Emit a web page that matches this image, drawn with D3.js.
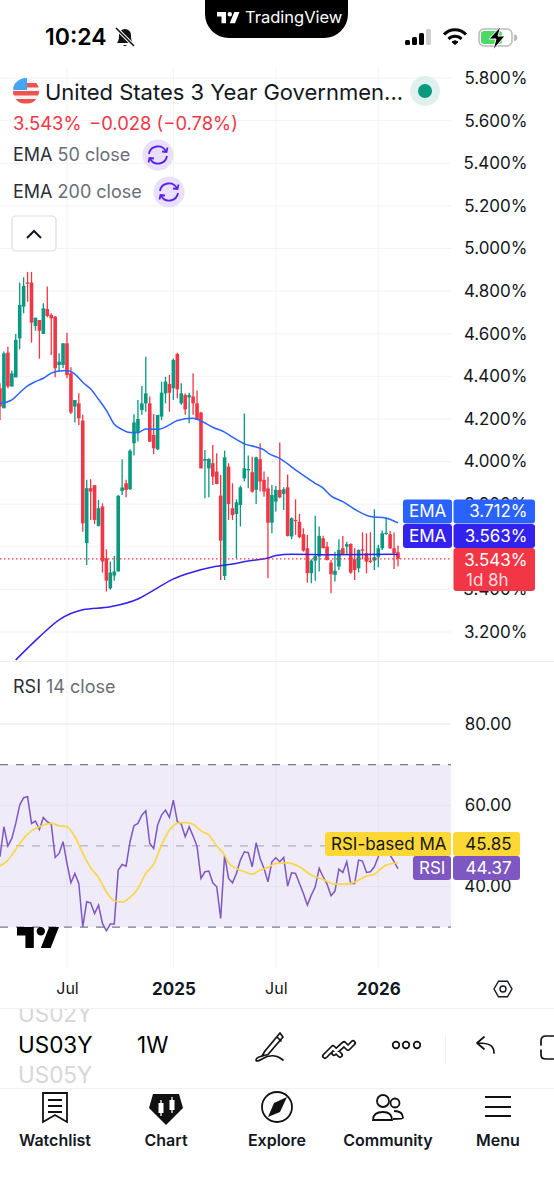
<!DOCTYPE html>
<html><head><meta charset="utf-8">
<script src="https://cdn.jsdelivr.net/npm/d3@7"></script>
<style>html,body{margin:0;padding:0;background:#fff}svg{display:block}text{font-family:Inter,"Noto Sans",sans-serif}</style>
</head><body><svg id="c" width="554" height="1200"></svg>
<script>
// Weekly candles, values (percent yield)
const opens=[4.344,4.250,4.511,4.352,4.395,4.578,4.727,4.840,4.840,4.636,4.664,4.599,4.716,4.688,4.680,4.453,4.453,4.555,4.414,4.258,4.273,4.192,3.617,3.875,3.889,3.698,3.789,3.546,3.405,3.465,3.484,3.862,3.898,3.870,4.086,4.133,4.242,4.273,4.273,4.125,4.057,4.211,4.320,4.364,4.344,4.505,4.273,4.312,4.301,4.305,4.273,4.230,4.004,3.968,3.992,3.953,3.840,3.463,3.976,3.781,3.754,3.796,3.921,3.961,3.950,3.867,4.011,3.914,3.874,3.713,3.812,3.867,3.848,3.879,3.648,3.726,3.717,3.659,3.593,3.476,3.535,3.554,3.640,3.601,3.526,3.468,3.507,3.593,3.601,3.613,3.541,3.499,3.588,3.570,3.535,3.535,3.551,3.593,3.660,3.659,3.593,3.574];
const highs=[4.367,4.516,4.539,4.427,4.599,4.840,4.865,4.890,4.890,4.675,4.664,4.743,4.821,4.696,4.683,4.508,4.555,4.605,4.442,4.289,4.320,4.219,3.914,3.917,3.889,3.820,3.804,3.588,3.531,3.557,3.843,4.011,3.914,4.058,4.222,4.289,4.355,4.492,4.305,4.223,4.219,4.375,4.398,4.406,4.484,4.511,4.367,4.320,4.323,4.414,4.333,4.234,4.054,4.015,4.078,4.039,3.937,4.051,3.992,3.898,3.823,3.887,4.226,4.028,4.023,4.023,4.086,3.953,3.929,3.890,3.885,4.089,3.879,3.939,3.738,3.823,3.754,3.687,3.656,3.541,3.745,3.695,3.652,3.624,3.538,3.577,3.635,3.651,3.624,3.616,3.593,3.588,3.668,3.663,3.668,3.776,3.609,3.676,3.738,3.674,3.667,3.606];
const lows=[4.195,4.250,4.344,4.352,4.395,4.527,4.696,4.750,4.558,4.614,4.483,4.599,4.677,4.500,4.395,4.422,4.438,4.391,4.223,4.183,4.172,3.671,3.515,3.726,3.707,3.695,3.479,3.390,3.398,3.441,3.484,3.843,3.832,3.867,4.028,4.094,4.219,4.234,4.093,4.034,4.054,4.195,4.273,4.234,4.289,4.297,4.266,4.219,4.180,4.219,4.195,3.968,3.828,3.832,3.890,3.893,3.444,3.444,3.726,3.726,3.546,3.695,3.906,3.875,3.854,3.801,3.859,3.835,3.452,3.663,3.765,3.828,3.773,3.648,3.635,3.656,3.640,3.577,3.432,3.429,3.441,3.484,3.593,3.535,3.382,3.437,3.491,3.562,3.562,3.473,3.444,3.479,3.541,3.476,3.523,3.491,3.504,3.585,3.656,3.590,3.496,3.507];
const closes=[4.258,4.508,4.352,4.414,4.571,4.735,4.824,4.837,4.652,4.675,4.614,4.719,4.683,4.672,4.438,4.469,4.555,4.406,4.230,4.289,4.203,3.710,3.875,3.859,3.726,3.781,3.531,3.441,3.479,3.484,3.839,3.878,3.867,4.051,4.184,4.200,4.273,4.320,4.093,4.062,4.219,4.323,4.375,4.323,4.477,4.339,4.320,4.245,4.312,4.273,4.195,3.968,4.012,4.012,3.929,3.895,3.629,4.020,3.801,3.749,3.809,3.879,3.968,3.965,3.859,4.020,3.906,3.859,3.713,3.843,3.867,3.832,3.870,3.651,3.734,3.723,3.645,3.582,3.476,3.535,3.557,3.651,3.593,3.538,3.471,3.488,3.585,3.562,3.612,3.479,3.491,3.585,3.582,3.530,3.529,3.551,3.593,3.663,3.666,3.593,3.570,3.543];

const ema50Idx=[0,3,5,7,9,11,13,15,17,19,21,23,25,27,29,31,33,35,37,40,43,45,49,51,54,57,59,62,65,67,68,71,75,80,82,84,87,90,94,98,101];
const ema50Val=[4.272,4.289,4.323,4.355,4.375,4.391,4.415,4.425,4.427,4.410,4.372,4.340,4.292,4.240,4.175,4.150,4.136,4.136,4.153,4.151,4.172,4.193,4.203,4.190,4.161,4.138,4.115,4.083,4.068,4.055,4.040,4.015,3.961,3.898,3.875,3.839,3.812,3.776,3.742,3.734,3.712];
const ema200Idx=[4,10,15,21,28,35,40,44,49,54,59,63,68,70,74,84,100,101];
const ema200Val=[3.069,3.177,3.257,3.304,3.318,3.355,3.407,3.449,3.482,3.505,3.519,3.533,3.547,3.559,3.565,3.563,3.565,3.563];

const rsi=[47.32,54.71,49.95,51.84,55.53,60.05,61.85,62.10,55.53,56.11,54.05,57.01,55.94,55.37,47.16,48.14,51.02,45.68,40.92,43.22,40.75,30.08,36.24,35.99,33.36,35.42,30.90,29.09,30.74,30.74,44.04,45.43,45.02,51.02,54.96,55.53,57.58,58.65,50.61,49.37,55.12,57.58,58.82,57.01,61.28,55.94,55.37,52.25,54.71,52.41,49.95,41.98,43.63,43.79,40.92,39.93,32.13,47.73,41.98,40.92,43.22,46.50,48.55,48.31,44.86,50.77,46.91,44.45,41.16,46.09,47.07,46.09,47.16,40.10,43.38,43.22,40.75,38.29,35.42,37.88,39.93,44.45,42.40,40.59,37.72,38.87,44.28,43.46,46.09,40.75,40.75,46.50,46.25,43.46,43.63,44.86,47.32,51.0,51.4,47.7,46.1,44.37];
const rsiMaIdx=[0,2,4,6,8,10,13,15,17,19,21,23,25,27,29,31,33,35,37,39,41,43,45,47,49,51,53,55,57,58,60,62,64,66,68,70,73,76,79,82,85,88,90,93,95,98,101];
const rsiMaVal=[45.02,46.5,49.13,51.84,53.7,54.7,55.53,54.96,54.7,52.25,48.14,44.6,42.23,38.7,36.48,36.16,37.3,39.52,43.2,45.5,50.2,53.9,55.53,55.78,55.3,53.7,52.66,49.95,47.73,45.84,44.45,43.63,43.05,44.04,44.7,45.68,45.84,44.86,42.8,41.74,40.59,40.59,41.08,42.56,43.05,45.27,45.85];

const priceTicks=[5.8,5.6,5.4,5.2,5.0,4.8,4.6,4.4,4.2,4.0,3.8,3.6,3.4,3.2];
const hiddenPriceLabels=[3.6];
const rsiTicks=[80,60,40];
const timeTickIdx=[17,44,70,96];
const timeTickLabels=["Jul","2025","Jul","2026"];
const navLabels=["Watchlist","Chart","Explore","Community","Menu"];

const INK="#131722",RED="#f23645",GREEN="#089981",BLUE="#2962ff",INDIGO="#3322ee",PURPLE="#7e57c2",YELLOW="#fdd835",GRID="#f2f3f5";
const svg=d3.select("#c");
const W=451;
const x=d3.scaleLinear().domain([0,101]).range([0,398]);
const y=d3.scaleLinear().domain([5.8,3.2]).range([78,632]);
const yR=d3.scaleLinear().domain([80,40]).range([724,886.5]);
svg.append("rect").attr("width",554).attr("height",1200).attr("fill","#fff");
const defs0=svg.append("defs");
defs0.append("clipPath").attr("id","pane").append("rect").attr("x",0).attr("y",60).attr("width",W).attr("height",601);
defs0.append("clipPath").attr("id","picker").append("rect").attr("x",0).attr("y",1009).attr("width",554).attr("height",79);

// grid
const g=svg.append("g");
g.selectAll(".h").data(priceTicks).join("line").attr("x1",0).attr("x2",W).attr("y1",d=>y(d)).attr("y2",d=>y(d)).attr("stroke",GRID);
g.selectAll(".v").data(timeTickIdx).join("line").attr("x1",d=>x(d)).attr("x2",d=>x(d)).attr("y1",68).attr("y2",968).attr("stroke",GRID);
g.append("line").attr("x1",0).attr("x2",554).attr("y1",661.5).attr("y2",661.5).attr("stroke","#eceef1");
g.append("line").attr("x1",0).attr("x2",554).attr("y1",1008.5).attr("y2",1008.5).attr("stroke","#f0f1f3");

// axes
const axP=svg.append("g").attr("transform","translate(527.5,0)").call(d3.axisRight(y).tickValues(priceTicks.filter(d=>!hiddenPriceLabels.includes(d))).tickSize(0).tickFormat(d=>d3.format(".3f")(d)+"%"));
const axR=svg.append("g").attr("transform","translate(511.5,0)").call(d3.axisRight(yR).tickValues(rsiTicks).tickSize(0).tickFormat(d3.format(".2f")));
[axP,axR].forEach(a=>{a.select(".domain").remove();a.selectAll("text").attr("x",0).attr("text-anchor","end").attr("fill",INK).style("font-size","17px").style("font-family","Inter")});
const axT=svg.append("g").attr("transform","translate(0,978)").call(d3.axisBottom(x).tickValues(timeTickIdx).tickSize(0).tickFormat((d,i)=>timeTickLabels[i]));
axT.select(".domain").remove();
axT.selectAll("text").attr("y",0).attr("dy","1em").attr("fill",INK).style("font-family","Inter").style("font-size",(d,i)=>i%2?"17px":"16px").style("font-weight",(d,i)=>i%2?"700":"400");

// candles
const idx=d3.range(opens.length);
const cg=svg.append("g").attr("clip-path","url(#pane)");
const col=i=>closes[i]>=opens[i]?GREEN:RED;
cg.selectAll(".w").data(idx).join("line").attr("x1",x).attr("x2",x).attr("y1",i=>y(highs[i])).attr("y2",i=>y(lows[i])).attr("stroke",col).attr("stroke-width",1.3);
cg.selectAll(".b").data(idx).join("rect").attr("x",i=>x(i)-1.8).attr("width",3.6).attr("y",i=>y(Math.max(opens[i],closes[i]))).attr("height",i=>Math.max(1.2,Math.abs(y(opens[i])-y(closes[i])))).attr("fill",col);
const ln=(xs,ys,sy)=>d3.line().x((d,i)=>x(xs[i])).y((d,i)=>sy(ys[i])).curve(d3.curveMonotoneX)(xs);
cg.append("path").attr("d",ln(ema50Idx,ema50Val,y)).attr("fill","none").attr("stroke",BLUE).attr("stroke-width",1.5);
cg.append("path").attr("d",ln(ema200Idx,ema200Val,y)).attr("fill","none").attr("stroke",INDIGO).attr("stroke-width",1.5);
svg.append("line").attr("x1",0).attr("x2",W).attr("y1",y(closes[closes.length-1])).attr("y2",y(closes[closes.length-1])).attr("stroke",RED).attr("stroke-dasharray","1.5 2.5").attr("stroke-width",1.3);

// RSI pane
svg.append("rect").attr("x",0).attr("y",yR(70)).attr("width",W).attr("height",yR(30)-yR(70)).attr("fill","#7e57c2").attr("fill-opacity",.12);
svg.selectAll(".rg").data(rsiTicks).join("line").attr("x1",0).attr("x2",W).attr("y1",d=>yR(d)).attr("y2",d=>yR(d)).attr("stroke","#e6e3ee");
[[70,"#787b86"],[50,"#b4b4bd"],[30,"#787b86"]].forEach(([v,c])=>svg.append("line").attr("x1",0).attr("x2",W).attr("y1",yR(v)).attr("y2",yR(v)).attr("stroke",c).attr("stroke-width",1.1).attr("stroke-dasharray","8 8"));
const TV="M14 6H2v6h6v9h6V6zm12 15h-7l6-15h7l-6 15zm-7-9a3 3 0 1 0 0-6 3 3 0 0 0 0 6z";
svg.append("path").attr("d",TV).attr("transform","translate(14.2,918.6) scale(1.4)").attr("fill","#000");
svg.append("path").attr("d",d3.line().x((d,i)=>x(i)).y(d=>yR(d))(rsi)).attr("fill","none").attr("stroke",PURPLE).attr("stroke-width",1.5);
svg.append("path").attr("d",ln(rsiMaIdx,rsiMaVal,yR)).attr("fill","none").attr("stroke","#f9d64a").attr("stroke-width",1.7);

const T=(tx,ty,s,o={})=>svg.append("text").attr("x",tx).attr("y",ty).text(s).attr("fill",o.fill||INK).attr("text-anchor",o.anchor||"start").style("font-size",(o.size||17)+"px").style("font-weight",o.weight||400);
const box=(bx,by,w,h,f,r=3)=>svg.append("rect").attr("x",bx).attr("y",by).attr("width",w).attr("height",h).attr("rx",r).attr("fill",f);

// price labels
box(403,499.5,49,24,BLUE);box(453.5,499.5,81.5,24,BLUE);
box(403,524,49,24,INDIGO);box(453.5,524,81.5,24,INDIGO);
box(453.5,548,81.5,43,RED);
T(409,517,"EMA",{fill:"#fff"});T(527.5,517,"3.712%",{fill:"#fff",anchor:"end"});
T(409,541.5,"EMA",{fill:"#fff"});T(527.5,541.5,"3.563%",{fill:"#fff",anchor:"end"});
T(527.5,565.5,"3.543%",{fill:"#fff",anchor:"end"});T(466,586,"1d 8h",{fill:"#ffdcdf"});
// RSI labels
box(325,832,126,24,YELLOW);box(453,832,67,24,YELLOW);
box(413,856,38,24,PURPLE);box(453,856,67,24,PURPLE);
T(331,850,"RSI-based MA");T(511.5,850,"45.85",{anchor:"end"});
T(419,874,"RSI",{fill:"#fff"});T(511.5,874,"44.37",{fill:"#fff",anchor:"end"});

// legend
defs0.append("clipPath").attr("id","flag").append("circle").attr("cx",26).attr("cy",91).attr("r",13);
const fl=svg.append("g").attr("clip-path","url(#flag)");
fl.append("rect").attr("x",13).attr("y",78).attr("width",26).attr("height",26).attr("fill","#f2f2f2");
[82,90,98].forEach(v=>fl.append("rect").attr("x",13).attr("y",v+1).attr("width",26).attr("height",4.5).attr("fill","#ef5350"));
fl.append("rect").attr("x",13).attr("y",78).attr("width",14).attr("height",12).attr("fill","#42a5f5");
T(45,100,"United States 3 Year Governmen...",{size:22});
svg.append("circle").attr("cx",425).attr("cy",91).attr("r",15).attr("fill","#dff1ee");
svg.append("circle").attr("cx",425).attr("cy",91).attr("r",7).attr("fill",GREEN);
T(13,130,"3.543%",{fill:RED,size:18.4});T(89,130,"\u22120.028 (\u22120.78%)",{fill:RED,size:18.4});
const emaLegend=(ly,a,b,cx)=>{
  const t=T(13,ly+6,a,{size:18,fill:"#2a2e39"});
  t.append("tspan").text(" "+b).attr("fill","#6a6d78");
  svg.append("circle").attr("cx",cx).attr("cy",ly).attr("r",15.5).attr("fill","#e9e0fb");
  const ic=svg.append("g").attr("transform",`translate(${cx},${ly})`).attr("fill","none").attr("stroke","#5a22e6").attr("stroke-width",1.8);
  ic.append("path").attr("d","M-9 -1A9 9 0 0 1 8 -3.5M9 1A9 9 0 0 1 -8 3.5");
  ic.append("path").attr("d","M4 -3.5L8.5 -3L9.5 -7.5M-4 3.5L-8.5 3L-9.5 7.5");
};
emaLegend(155,"EMA","50 close",158);
emaLegend(192,"EMA","200 close",169);
svg.append("rect").attr("x",12).attr("y",216).attr("width",44).attr("height",35).attr("rx",4).attr("fill","#fff").attr("stroke","#dcdde0").attr("stroke-width",1.2);
svg.append("path").attr("d","M27 238L34 231L41 238").attr("fill","none").attr("stroke",INK).attr("stroke-width",2);
const t2=T(13,693,"RSI",{size:18,fill:"#2a2e39"});t2.append("tspan").text(" 14 close").attr("fill","#6a6d78");

// time axis settings
svg.append("path").attr("d","M494 989L498.500 981.200L507.500 981.200L512 989L507.500 996.800L498.500 996.800Z").attr("fill","none").attr("stroke",INK).attr("stroke-width",1.4);
svg.append("circle").attr("cx",503).attr("cy",989).attr("r",3).attr("fill","none").attr("stroke",INK).attr("stroke-width",1.4);

// status bar
svg.append("path").attr("d","M205 0H348V14A24 24 0 0 1 324 38H229A24 24 0 0 1 205 14Z").attr("fill","#000");
svg.append("path").attr("d",TV).attr("transform","translate(215.500,7.500) scale(0.75)").attr("fill","#fff");
T(245,23,"TradingView",{fill:"#fff",size:16.5});
T(45,45,"10:24",{size:23,weight:600,fill:"#000"});
const bell=svg.append("g").attr("transform","translate(125,37)");
bell.append("path").attr("d","M-8 6C-6 3 -6 1 -6 -2A6 6 0 0 1 6 -2C6 1 6 3 8 6Z M-2 8A2.500 2.500 0 0 0 2 8Z").attr("fill","#111");
bell.append("line").attr("x1",-9).attr("y1",-9).attr("x2",9).attr("y2",9).attr("stroke","#fff").attr("stroke-width",3.5);
bell.append("line").attr("x1",-9).attr("y1",-9).attr("x2",9).attr("y2",9).attr("stroke","#111").attr("stroke-width",1.6);
[[405,40,5,"#000"],[412,37,5,"#000"],[419,33,5,"#000"],[426,29,5,"#cfcfd2"]].forEach(([a,b,w,f])=>box(a,b,w,45-b,f,1.5));
const wifi=svg.append("g").attr("transform","translate(455,45)").attr("fill","none").attr("stroke","#000").attr("stroke-width",3);
wifi.append("path").attr("d","M-11 -10.500A15 15 0 0 1 11 -10.500");wifi.append("path").attr("d","M-6.500 -6A9 9 0 0 1 6.500 -6");
wifi.append("path").attr("d","M0 -0.500L-3 -3A4.500 4.500 0 0 1 3 -3Z").attr("fill","#000").attr("stroke-width",1);
svg.append("rect").attr("x",479).attr("y",29).attr("width",33).attr("height",17).attr("rx",5).attr("fill","#fff").attr("stroke","#b9b9bc").attr("stroke-width",1.5);
box(481,31,21,13,"#4cd964",3);
svg.append("path").attr("d","M514 34.500A3 3 0 0 1 514 41Z").attr("fill","#b9b9bc");
svg.append("path").attr("d","M501 26L489 39H496L493 50L505 36H498Z").attr("fill","#000").attr("stroke","#fff").attr("stroke-width",1);

// toolbar
const pick=svg.append("g").attr("clip-path","url(#picker)");
pick.append("text").attr("x",18).attr("y",1022).text("US02Y").attr("fill","#d6d6d8").style("font-size","22.5px");
pick.append("text").attr("x",18).attr("y",1083).text("US05Y").attr("fill","#d6d6d8").style("font-size","22.5px");
T(18,1053,"US03Y",{size:22.5,fill:"#000"});
T(137,1053,"1W",{size:22.5,fill:"#000"});
svg.append("line").attr("x1",0).attr("x2",554).attr("y1",1088.5).attr("y2",1088.5).attr("stroke","#f0f1f3");
const tb=svg.append("g").attr("fill","none").attr("stroke","#111").attr("stroke-width",1.7).attr("stroke-linecap","round").attr("stroke-linejoin","round");
tb.append("path").attr("d","M265 1051L262 1056L268 1054.500L283 1037L280 1033Z M277 1037L281 1041");
tb.append("path").attr("d","M262 1056C254 1058 254 1064 262 1059C268 1055 276 1054 283 1060");
const zig="M325 1056L333 1048L340 1055M334 1053L344 1044L348 1048L353 1043";
tb.append("path").attr("d",zig).attr("stroke-width",6);
tb.append("path").attr("d",zig).attr("stroke","#fff").attr("stroke-width",2.6);
[396,406,417].forEach(c=>tb.append("circle").attr("cx",c).attr("cy",1045).attr("r",3.3));
tb.append("path").attr("d","M494 1053C494 1046 490 1043 478 1043M484 1037L477 1043L484 1049");
tb.append("path").attr("d","M554 1036H546Q541 1036 541 1041V1045M541 1050V1055Q541 1059 546 1059H554");
svg.append("line").attr("x1",445.500).attr("x2",445.500).attr("y1",1035).attr("y2",1065).attr("stroke","#f0f1f3");

// nav bar
const navX=[55,166,277,388,498];
svg.selectAll(".nav").data(navLabels).join("text").attr("x",(d,i)=>navX[i]).attr("y",1146).attr("text-anchor","middle").attr("fill",INK).style("font-size","16px").style("font-weight",600).text(d=>d);
const nv=svg.append("g").attr("fill","none").attr("stroke","#111").attr("stroke-width",1.8);
nv.append("path").attr("d","M43 1093H67V1122L55 1115L43 1122Z M48 1100H62M48 1106H62M48 1112H62");
svg.append("path").attr("d","M153 1094H179L183 1108L166 1125L149 1108Z").attr("fill","#111");
[[161,1108],[172,1105]].forEach(([a,b])=>{svg.append("rect").attr("x",a-2.5).attr("y",b-5).attr("width",5).attr("height",10).attr("fill","#fff");svg.append("line").attr("x1",a).attr("x2",a).attr("y1",b-8).attr("y2",b+8).attr("stroke","#fff").attr("stroke-width",1.3);});
nv.append("circle").attr("cx",277).attr("cy",1107).attr("r",15);
svg.append("path").attr("d","M287 1097L280 1112L268 1117L274 1103Z").attr("fill","#111");
nv.append("circle").attr("cx",383).attr("cy",1101).attr("r",6);nv.append("circle").attr("cx",395).attr("cy",1103).attr("r",4.5);
nv.append("path").attr("d","M373 1120Q373 1112 383 1112Q392 1112 392 1120Q392 1120 373 1120ZM394 1111Q403 1111 403 1118Q403 1119 393 1119");
nv.append("path").attr("d","M485 1097H511M485 1107H511M485 1116H511");
</script></body></html>
